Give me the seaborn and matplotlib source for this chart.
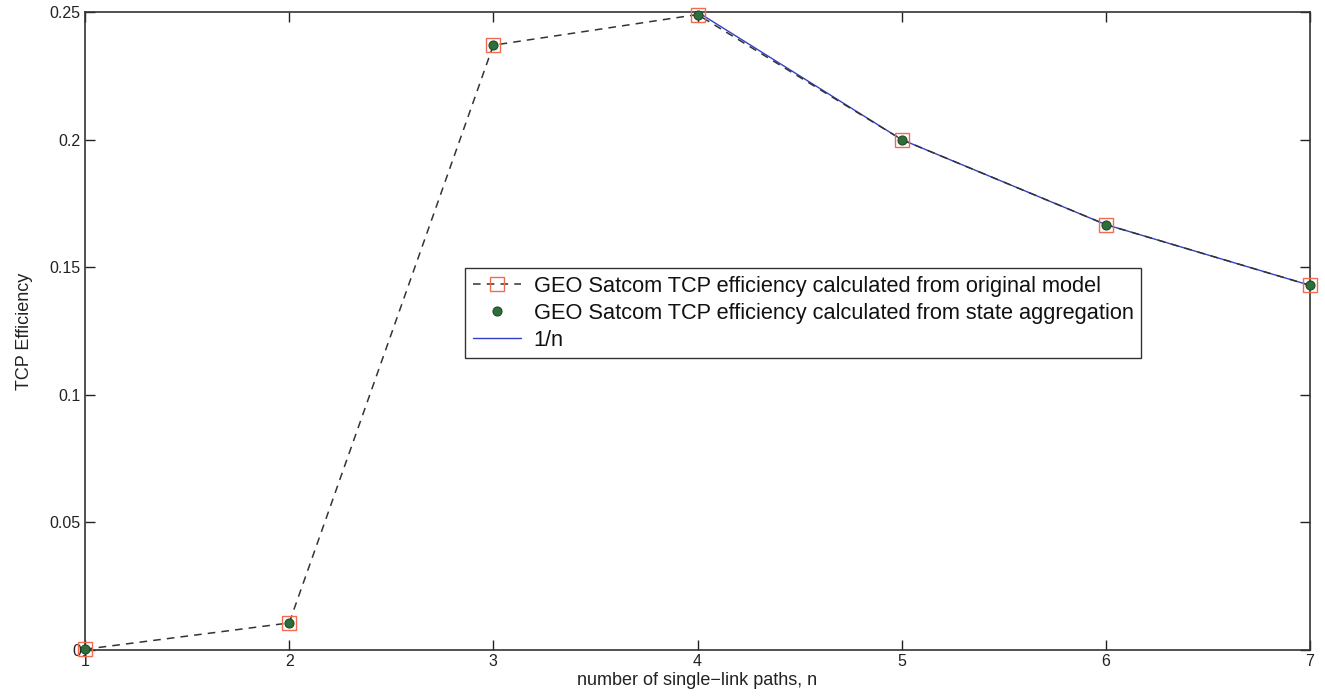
import matplotlib
matplotlib.use("Agg")
import matplotlib.pyplot as plt
import seaborn as sns
import pandas as pd

# Number of single-link paths
paths = [1, 2, 3, 4, 5, 6, 7]
# TCP efficiency from the original model
eff_original = [0.0003, 0.0106, 0.2370, 0.2490, 0.2000, 0.1667, 0.1429]
# TCP efficiency from state aggregation
eff_aggregated = [0.0003, 0.0106, 0.2370, 0.2490, 0.2000, 0.1667, 0.1429]
# Reference curve 1/n
ref_n = [4, 5, 6, 7]
ref_vals = [0.25, 0.2, 0.1667, 0.1429]

x_ticks = [1, 2, 3, 4, 5, 6, 7]
y_ticks = [0, 0.05, 0.1, 0.15, 0.2, 0.25]
y_tick_labels = ["0", "0.05", "0.1", "0.15", "0.2", "0.25"]

labels = [
    "GEO Satcom TCP efficiency calculated from original model",
    "GEO Satcom TCP efficiency calculated from state aggregation",
    "1/n",
]

sns.set_theme(style="white")
plt.rcParams["font.family"] = ["Liberation Sans", "DejaVu Sans"]

fig = plt.figure(figsize=(13.25, 6.98), dpi=100)
ax = fig.add_axes([85 / 1325, 1 - 650 / 698, (1310 - 85) / 1325, (650 - 12) / 698])

df_orig = pd.DataFrame({"n": paths, "eff": eff_original})
df_agg = pd.DataFrame({"n": paths, "eff": eff_aggregated})
df_ref = pd.DataFrame({"n": ref_n, "eff": ref_vals})

sns.lineplot(data=df_ref, x="n", y="eff", ax=ax, color="#3340c4", linewidth=1.0,
             label=labels[2], zorder=2)
sns.lineplot(data=df_orig, x="n", y="eff", ax=ax, color="#333333", linewidth=1.1,
             linestyle=(0, (5, 4)), marker="s", markersize=10,
             markerfacecolor="none", markeredgecolor="#f26a50", markeredgewidth=1.0,
             label=labels[0], zorder=3, clip_on=False)
sns.lineplot(data=df_agg, x="n", y="eff", ax=ax, color="#2d6e3a", linewidth=0,
             marker="o", markersize=6.5, markeredgecolor="#1f4a28",
             markeredgewidth=0.8, label=labels[1], zorder=4, clip_on=False)

ax.set_xlim(1, 7)
ax.set_ylim(0, 0.25)
ax.set_xticks(x_ticks)
ax.set_xticklabels([str(t) for t in x_ticks])
ax.set_yticks(y_ticks)
ax.set_yticklabels(y_tick_labels)
ax.tick_params(direction="in", length=7, width=1, colors="#222222",
               top=True, right=True, labelsize=11.5, pad=3,
               bottom=True, left=True)
for side in ["left", "right", "top", "bottom"]:
    ax.spines[side].set_visible(True)
    ax.spines[side].set_color("#333333")
    ax.spines[side].set_linewidth(1.2)

ax.set_xlabel("number of single\u2212link paths, n", fontsize=13, labelpad=2, color="#222222")
ax.set_ylabel("TCP Efficiency", fontsize=13, labelpad=12, color="#222222")

handles, hl = ax.get_legend_handles_labels()
order = [hl.index(l) for l in labels]
leg = ax.legend([handles[i] for i in order], [hl[i] for i in order],
                loc="upper left", bbox_to_anchor=(465 / 1325, 1 - 268 / 698),
                bbox_transform=fig.transFigure, borderaxespad=0,
                fontsize=15.7, frameon=True, fancybox=False, framealpha=1,
                edgecolor="#333333", handlelength=2.2, handletextpad=0.6,
                borderpad=0.35, labelspacing=0.28)
leg.get_frame().set_linewidth(1.0)
for t in leg.get_texts():
    t.set_color("#111111")

fig.savefig("out.png", dpi=100, facecolor="white")
